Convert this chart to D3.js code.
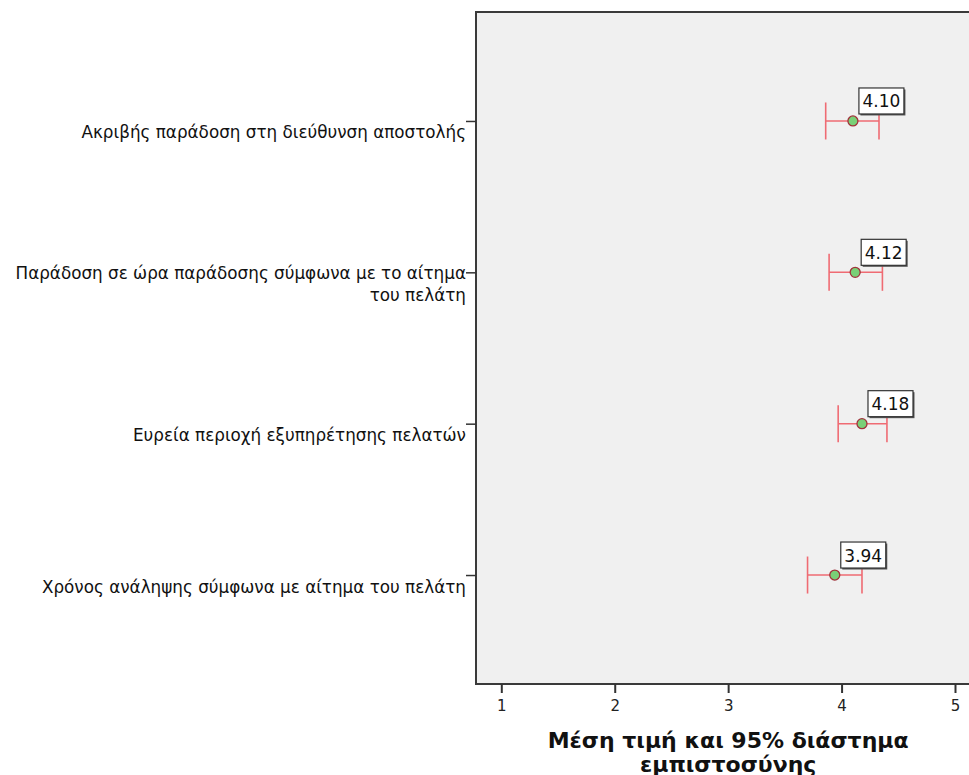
<!DOCTYPE html>
<html><head><meta charset="utf-8">
<script src="https://cdn.jsdelivr.net/npm/d3@7"></script>
<style>body{margin:0;background:#fff}svg{display:block}</style>
</head><body><svg id="c" width="969" height="775"></svg>
<script>
const categories = [
  ["Ακριβής παράδοση στη διεύθυνση αποστολής"],
  ["Παράδοση σε ώρα παράδοσης σύμφωνα με το αίτημα", "του πελάτη"],
  ["Ευρεία περιοχή εξυπηρέτησης πελατών"],
  ["Χρόνος ανάληψης σύμφωνα με αίτημα του πελάτη"]
];
const means = [4.10, 4.12, 4.18, 3.94];
const lower = [3.86, 3.89, 3.97, 3.70];
const upper = [4.33, 4.36, 4.40, 4.18];
const xTicks = [1, 2, 3, 4, 5];
const xTitle = ["Μέση τιμή και 95% διάστημα", "εμπιστοσύνης"];

const svg = d3.select("#c");
const L = 476, T = 12, B = 684, R = 1000;
const x = d3.scaleLinear().domain([1, 5]).range([501.3, 955]);
const keys = categories.map((d, i) => i);
const y = d3.scalePoint().domain(keys).range([T, B]).padding(0.72);
const font = "'DejaVu Sans', Verdana, sans-serif";

svg.append("rect").attr("x", L).attr("y", T).attr("width", R - L).attr("height", B - T)
  .attr("fill", "#f0f0f0").attr("stroke", "#3a3a3a").attr("stroke-width", 2);

// x axis
const xa = svg.append("g").attr("transform", `translate(0,${B})`)
  .call(d3.axisBottom(x).tickValues(xTicks).tickSize(9).tickPadding(7).tickFormat(d3.format("d")));
xa.select(".domain").remove();
xa.selectAll(".tick line").attr("stroke", "#333").attr("stroke-width", 2);
xa.selectAll(".tick text").attr("font-family", font).attr("font-size", 15).attr("fill", "#222");

// y axis
const ya = svg.append("g").attr("transform", `translate(${L},0)`)
  .call(d3.axisLeft(y).tickSize(10).tickFormat(""));
ya.select(".domain").remove();
ya.selectAll(".tick line").attr("stroke", "#333").attr("stroke-width", 1.5);
ya.selectAll(".tick").each(function (d) {
  const lines = categories[d];
  const t = d3.select(this).append("text").attr("text-anchor", "end")
    .attr("font-family", font).attr("font-size", 16.8).attr("fill", "#111");
  lines.forEach((s, i) => {
    t.append("tspan").attr("x", -10).attr("dy", 0)
      .attr("y", 11 + (i - (lines.length - 1) / 2) * 22).attr("dominant-baseline", "central").text(s);
  });
});

// error bars
const g = svg.append("g");
keys.forEach(i => {
  const cy = y(i);
  const gg = g.append("g").attr("stroke", "#ef6b73").attr("stroke-width", 1.6);
  gg.append("line").attr("x1", x(lower[i])).attr("x2", x(upper[i])).attr("y1", cy).attr("y2", cy);
  gg.append("line").attr("x1", x(lower[i])).attr("x2", x(lower[i])).attr("y1", cy - 18.5).attr("y2", cy + 18.5);
  gg.append("line").attr("x1", x(upper[i])).attr("x2", x(upper[i])).attr("y1", cy - 18.5).attr("y2", cy + 18.5);
  g.append("circle").attr("cx", x(means[i])).attr("cy", cy).attr("r", 5)
    .attr("fill", "#79d077").attr("stroke", "#a0323a").attr("stroke-width", 1.3);
  // label box
  const bx = x(means[i]) + 6, by = cy - 33;
  g.append("rect").attr("x", bx + 1.5).attr("y", by + 1.5).attr("width", 45).attr("height", 26).attr("fill", "#555");
  g.append("rect").attr("x", bx).attr("y", by).attr("width", 45).attr("height", 26)
    .attr("fill", "#fff").attr("stroke", "#333").attr("stroke-width", 1.2);
  g.append("text").attr("x", bx + 22.5).attr("y", by + 13.5).attr("text-anchor", "middle")
    .attr("dominant-baseline", "central").attr("font-family", font).attr("font-size", 17).attr("fill", "#111")
    .text(means[i].toFixed(2));
});

// x title
const tt = svg.append("text").attr("text-anchor", "middle").attr("font-family", font)
  .attr("font-size", 22).attr("font-weight", "bold").attr("fill", "#111");
xTitle.forEach((s, i) => tt.append("tspan").attr("x", (x(1) + x(5)) / 2).attr("y", 740 + i * 24)
  .attr("dominant-baseline", "central").text(s));
</script></body></html>
